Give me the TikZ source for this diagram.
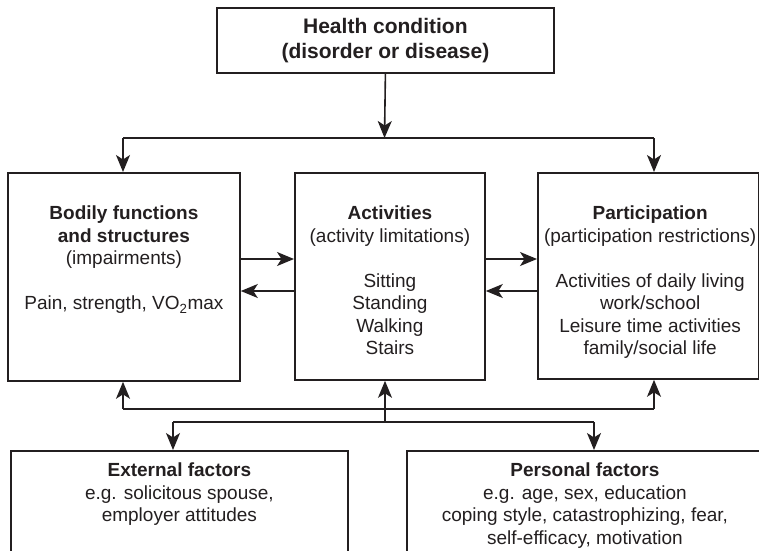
\documentclass[tikz,border=0pt]{standalone}
\usepackage{fontspec}
\setmainfont{Liberation Sans}
\usetikzlibrary{arrows.meta,calc}
\definecolor{ink}{HTML}{231F20}
\begin{document}
\begin{tikzpicture}[x=1pt,y=-1pt,
  box/.style={draw=ink, line width=1.8pt, fill=white, inner sep=0pt, anchor=north west},
  txt/.style={text=ink, align=center, inner sep=0pt, anchor=north,
              font=\fontsize{19}{22.5}\selectfont},
  conn/.style={draw=ink, line width=1.6pt},
  arr/.style={conn, -{Stealth[length=17pt,width=14pt,inset=4.5pt]}}]
\useasboundingbox (0,0) rectangle (759,550);
\clip (0,0) rectangle (759,550);

% boxes
\node[box, minimum width=337pt, minimum height=65pt, text=ink, align=center,
      font=\bfseries\fontsize{21}{25}\selectfont] (health) at (216,7)
      {Health condition\\(disorder or disease)};
\node[box, minimum width=232pt, minimum height=208pt] (body) at (7,172) {};
\node[box, minimum width=190pt, minimum height=207pt] (act) at (294,172) {};
\node[box, minimum width=220.5pt, minimum height=206pt] (part) at (537,172) {};
\node[box, minimum width=337pt, minimum height=150pt] (ext) at (10,450) {};
\node[box, minimum width=356pt, minimum height=150pt] (pers) at (406,450) {};

% box texts
\node[txt] (bodyT) at ($(body.north)+(0,34)$)
  {\textbf{Bodily functions}\\\textbf{and structures}\\(impairments)\\[22.5pt]
   Pain, strength, VO\textsubscript{2}max};
\node[txt] (actT) at ($(act.north)+(0,34)$)
  {\textbf{Activities}\\(activity limitations)\\[22.5pt]
   Sitting\\Standing\\Walking\\Stairs};
\node[txt] (partT) at ($(part.north)+(2,34)$)
  {\textbf{Participation}\\(participation restrictions)\\[22.5pt]
   Activities of daily living\\work/school\\Leisure time activities\\family/social life};
\node[txt] (extT) at ($(ext.north)+(0,13)$)
  {\textbf{External factors}\\e.g. solicitous spouse,\\employer attitudes};
\node[txt] (persT) at ($(pers.north)+(0,13)$)
  {\textbf{Personal factors}\\e.g. age, sex, education\\coping style, catastrophizing, fear,\\self-efficacy, motivation};

% health condition to the three domains
\coordinate (hj) at (384.5,138);
\coordinate (tl) at (123,138);
\coordinate (tr) at (654,138);
\draw[arr] (health.south) -- (hj);
\draw[conn] (tl) -- (tr);
\draw[arr] (tl) -- (tl |- body.north);
\draw[arr] (tr) -- (tr |- part.north);

% two-way links between domains
\coordinate (ra) at (0,259);
\coordinate (la) at (0,291);
\draw[arr] (body.east |- ra) -- (act.west |- ra);
\draw[arr] (act.west |- la) -- (body.east |- la);
\draw[arr] (act.east |- ra) -- (part.west |- ra);
\draw[arr] (part.west |- la) -- (act.east |- la);

% contextual factors
\coordinate (bl) at (123,409);
\coordinate (bm) at (385,409);
\coordinate (br) at (654,409);
\coordinate (dm) at (385,422);
\coordinate (dl) at (173,422);
\coordinate (dr) at (594,422);
\draw[conn] (bl) -- (br);
\draw[arr] (bl) -- (bl |- body.south);
\draw[arr] (bm) -- (bm |- act.south);
\draw[arr] (br) -- (br |- part.south);
\draw[conn] (bm) -- (dm);
\draw[conn] (dl) -- (dr);
\draw[arr] (dl) -- (dl |- ext.north);
\draw[arr] (dr) -- (dr |- pers.north);
\end{tikzpicture}
\end{document}
